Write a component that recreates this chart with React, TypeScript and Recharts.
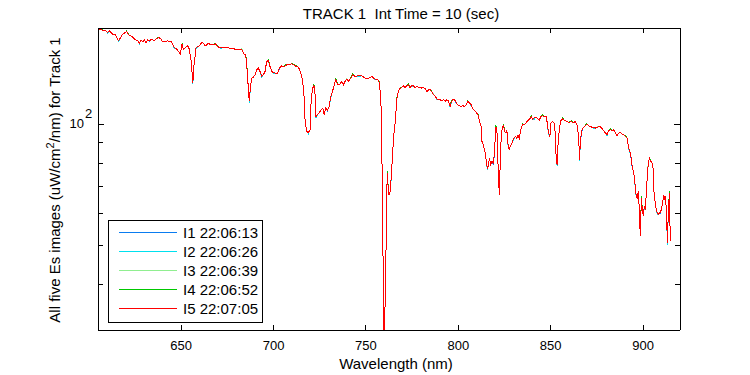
import { LineChart, Line, XAxis, YAxis, Legend } from 'recharts'

// wavelength (nm) samples
const wavelength = [
  605.4, 606.6, 607.5, 609.0, 610.3, 611.1, 612.0, 613.0, 614.2, 615.1,
  616.2, 617.5, 618.4, 619.8, 620.5, 621.6, 622.9, 624.1, 625.2, 626.5,
  627.4, 628.3, 629.2, 630.1, 631.0, 631.9, 632.8, 634.1, 635.5, 636.4,
  637.9, 639.1, 640.0, 641.8, 642.7, 643.6, 644.5, 645.4, 646.3, 647.6,
  648.7, 649.6, 650.5, 651.2, 652.3, 653.6, 654.4, 655.4, 655.9, 656.3,
  657.0, 657.7, 658.1, 659.3, 660.2, 661.2, 662.0, 662.9, 663.9, 664.7,
  666.0, 667.4, 668.7, 669.5, 671.0, 672.5, 674.7, 676.1, 677.4, 679.2,
  681.0, 682.8, 683.7, 684.6, 685.1, 685.8, 686.4, 686.9, 687.5, 688.2,
  689.1, 690.0, 690.9, 691.8, 692.7, 693.6, 694.5, 695.4, 696.3, 697.2,
  698.1, 699.1, 699.9, 700.8, 702.1, 703.2, 704.5, 705.7, 707.2, 708.0,
  709.9, 711.7, 713.5, 714.4, 715.3, 716.2, 716.7, 717.1, 718.0, 718.9,
  719.8, 720.3, 721.0, 721.8, 722.5, 723.0, 723.7, 724.7, 725.8, 726.7,
  727.4, 728.3, 729.2, 730.1, 731.0, 731.9, 733.0, 733.7, 734.8, 736.0,
  737.0, 737.8, 738.7, 739.7, 740.5, 741.8, 742.9, 744.2, 745.9, 747.8,
  749.6, 751.4, 753.2, 755.0, 756.5, 757.3, 758.1, 758.6, 759.0, 759.5,
  759.9, 760.4, 761.0, 761.3, 761.7, 762.2, 762.9, 763.5, 764.0, 764.4,
  765.1, 765.7, 766.2, 766.6, 767.5, 768.4, 769.3, 770.2, 771.2, 772.1,
  773.0, 773.9, 774.9, 775.7, 776.6, 777.6, 779.0, 780.3, 781.1, 782.1,
  783.0, 783.9, 784.8, 785.7, 786.6, 787.5, 788.4, 789.3, 790.2, 791.2,
  792.0, 792.9, 793.8, 794.7, 795.6, 796.1, 797.1, 797.8, 798.9, 799.6,
  800.6, 801.6, 802.5, 803.2, 804.3, 805.2, 806.1, 807.0, 807.9, 808.8,
  809.7, 810.6, 811.5, 812.4, 812.8, 813.5, 814.2, 814.7, 815.3, 815.8,
  816.3, 816.9, 817.6, 818.2, 819.0, 819.6, 820.3, 820.9, 821.4, 821.7,
  822.3, 822.8, 823.4, 823.9, 824.5, 825.0, 825.8, 826.3, 826.8, 827.5,
  828.1, 829.0, 829.9, 830.8, 831.7, 832.3, 833.0, 833.5, 834.1, 834.8,
  835.9, 836.6, 837.7, 838.6, 839.5, 840.2, 841.1, 842.0, 843.1, 843.8,
  844.7, 845.6, 846.5, 847.6, 848.3, 848.8, 849.6, 850.1, 851.0, 851.9,
  852.5, 853.0, 853.5, 854.1, 854.8, 855.5, 856.4, 857.5, 858.8, 860.0,
  861.1, 862.4, 863.3, 864.2, 864.7, 865.3, 865.6, 866.1, 866.7, 867.4,
  868.3, 869.2, 870.2, 871.2, 872.3, 873.2, 874.5, 875.6, 876.8, 877.7,
  878.6, 879.5, 880.5, 881.3, 882.2, 883.2, 884.0, 885.0, 885.9, 886.7,
  887.7, 888.6, 889.4, 890.4, 891.3, 891.8, 892.5, 893.1, 893.6, 894.2,
  894.9, 895.4, 896.0, 896.3, 896.9, 897.4, 898.0, 898.5, 899.1, 899.6,
  900.1, 900.7, 901.2, 901.8, 902.3, 902.8, 903.4, 904.1, 904.8, 905.4,
  905.9, 906.5, 907.0, 907.7, 908.4, 909.3, 909.9, 910.6, 911.2, 911.7,
  912.2, 912.8, 913.2, 913.7, 914.3, 914.6, 914.9
]

const es1 = [
  171.9, 171.9, 170.5, 170.5, 168.6, 170.2, 168.6, 167.1, 167.1, 163.8,
  160.8, 164.5, 167.1, 168.6, 169.5, 166.4, 165.4, 163.8, 161.7, 160.8,
  158.7, 161.7, 159.9, 161.7, 159.2, 161.7, 160.3, 162.3, 160.8, 162.3,
  163.8, 162.3, 159.9, 159.9, 160.8, 159.9, 160.8, 157.8, 154.7, 153.3,
  151.0, 149.1, 157.8, 153.3, 154.7, 156.2, 153.3, 143.5, 134.2, 126.3,
  140.8, 148.5, 155.1, 155.6, 157.1, 159.2, 158.7, 156.2, 156.6, 158.7,
  157.1, 157.1, 158.0, 156.2, 154.2, 155.1, 155.1, 154.2, 154.2, 153.3,
  152.8, 153.3, 149.9, 148.5, 145.7, 135.0, 121.6, 113.8, 123.9, 130.0,
  130.7, 132.5, 136.3, 137.6, 135.0, 131.7, 132.5, 135.0, 142.9, 143.7,
  138.9, 135.0, 134.2, 133.8, 133.2, 137.1, 139.4, 138.9, 140.3, 140.3,
  141.1, 139.4, 138.4, 135.0, 131.2, 122.8, 113.8, 101.5, 95.9, 95.3,
  96.8, 112.7, 121.6, 125.1, 118.2, 104.4, 105.4, 106.8, 108.5, 109.5,
  105.4, 109.5, 108.0, 110.6, 117.1, 120.4, 125.8, 128.7, 125.1, 125.8,
  127.5, 125.1, 127.5, 129.2, 127.5, 130.0, 132.5, 131.2, 131.7, 131.7,
  130.0, 130.0, 131.2, 129.2, 128.7, 126.3, 114.9, 89.7, 59.6, 37.8,
  25.0, 36.7, 52.2, 68.8, 75.6, 66.8, 66.8, 71.4, 77.8, 83.9,
  94.1, 99.6, 105.4, 114.9, 120.4, 122.3, 123.2, 124.6, 122.7, 124.4,
  125.1, 123.2, 124.6, 124.4, 123.2, 123.7, 123.2, 122.8, 123.2, 122.3,
  120.4, 121.6, 121.6, 120.0, 118.2, 117.1, 115.5, 114.9, 114.9, 114.2,
  114.9, 113.8, 114.9, 114.2, 110.6, 112.7, 115.5, 114.9, 112.9, 111.6,
  111.0, 110.6, 111.2, 110.4, 111.6, 113.8, 112.7, 111.6, 109.1, 107.9,
  107.1, 105.4, 101.5, 98.6, 90.6, 88.9, 86.4, 83.9, 80.1, 77.4,
  79.3, 82.4, 79.3, 80.8, 79.6, 84.8, 98.6, 96.8, 83.9, 72.8,
  66.8, 85.5, 95.0, 97.7, 99.6, 95.9, 95.0, 96.8, 89.7, 86.4,
  88.0, 89.7, 91.8, 93.2, 92.3, 94.1, 92.3, 95.0, 97.7, 99.6,
  99.6, 100.6, 101.6, 102.9, 104.1, 102.9, 103.5, 104.1, 102.9, 102.1,
  104.4, 104.8, 104.4, 104.4, 99.6, 95.0, 93.2, 100.6, 101.5, 100.6,
  95.0, 81.6, 79.3, 91.4, 97.7, 102.1, 102.9, 102.1, 101.5, 100.9,
  101.5, 100.9, 101.5, 99.6, 96.8, 89.7, 81.6, 90.6, 95.4, 97.7,
  98.6, 99.6, 99.6, 98.6, 98.3, 98.3, 97.7, 98.3, 98.6, 97.7,
  96.4, 95.3, 94.1, 96.4, 96.8, 96.4, 96.8, 95.3, 93.5, 95.0,
  95.3, 94.6, 94.1, 93.2, 92.3, 89.7, 86.4, 84.8, 81.9, 77.8,
  76.3, 72.8, 68.8, 66.2, 65.6, 68.1, 61.4, 52.7, 65.6, 61.4,
  59.3, 62.5, 61.9, 67.5, 74.2, 79.3, 82.4, 80.8, 80.4, 77.8,
  68.1, 64.3, 61.9, 60.2, 59.9, 59.9, 61.4, 63.7, 66.8, 65.0,
  66.2, 57.9, 50.7, 61.4, 67.5, 55.8, 51.2
]

const es2 = [
  171.9, 171.9, 170.5, 170.5, 168.0, 170.2, 168.6, 167.1, 167.1, 163.8,
  160.1, 164.5, 167.1, 168.6, 169.5, 166.4, 165.4, 163.8, 161.7, 160.8,
  158.0, 161.7, 159.9, 161.7, 159.2, 161.7, 160.8, 162.3, 160.8, 162.3,
  163.8, 162.3, 159.9, 159.9, 160.8, 159.9, 160.8, 157.8, 154.0, 153.3,
  151.0, 149.1, 157.8, 153.3, 154.7, 156.2, 153.3, 143.5, 134.2, 125.5,
  140.8, 148.5, 154.5, 155.6, 157.1, 159.2, 158.7, 156.2, 157.1, 158.7,
  157.1, 157.1, 158.0, 156.2, 154.2, 154.4, 155.1, 154.2, 154.2, 153.3,
  152.8, 153.3, 149.9, 148.5, 145.7, 135.0, 121.6, 113.0, 123.9, 130.0,
  130.7, 132.5, 136.3, 137.6, 135.0, 131.0, 132.5, 135.0, 142.9, 143.7,
  138.9, 135.0, 133.6, 133.8, 133.2, 137.6, 139.4, 138.9, 140.3, 140.3,
  141.1, 139.4, 138.4, 135.0, 131.2, 122.8, 113.8, 101.5, 95.9, 94.7,
  96.8, 112.7, 121.6, 125.1, 118.2, 103.8, 105.4, 106.8, 108.5, 109.5,
  105.4, 109.5, 108.5, 110.6, 116.4, 120.4, 125.8, 128.7, 125.1, 125.8,
  127.5, 125.1, 127.5, 129.2, 127.5, 130.0, 132.5, 131.2, 131.0, 131.7,
  130.0, 130.0, 131.2, 128.6, 128.7, 126.3, 114.9, 89.7, 59.6, 37.8,
  25.0, 36.7, 52.2, 68.8, 75.6, 66.8, 66.8, 70.9, 77.8, 83.9,
  94.1, 99.6, 105.4, 114.2, 120.4, 122.3, 123.2, 124.6, 123.2, 124.4,
  125.1, 123.2, 124.0, 124.4, 123.2, 123.7, 123.2, 122.8, 123.2, 122.3,
  120.4, 121.6, 121.6, 120.0, 118.2, 117.1, 114.9, 114.9, 114.9, 114.2,
  114.9, 113.8, 114.9, 114.2, 110.0, 112.7, 115.5, 114.9, 113.4, 111.6,
  111.0, 110.6, 111.2, 110.4, 111.6, 113.8, 112.7, 111.0, 109.1, 107.9,
  107.1, 105.4, 101.5, 98.6, 90.6, 88.9, 86.4, 83.9, 80.1, 76.9,
  79.3, 82.4, 79.3, 80.3, 80.1, 84.8, 98.6, 96.8, 83.9, 72.8,
  66.8, 85.5, 95.0, 97.7, 99.6, 95.9, 95.0, 96.8, 89.1, 86.4,
  88.0, 89.7, 91.2, 93.2, 92.3, 94.1, 92.3, 95.0, 97.7, 99.6,
  99.6, 100.6, 102.1, 102.9, 104.1, 102.9, 102.9, 104.1, 102.9, 102.1,
  104.4, 104.8, 104.4, 104.4, 99.6, 94.3, 93.2, 100.6, 101.5, 100.6,
  95.0, 81.6, 78.7, 91.4, 97.7, 102.1, 102.9, 102.1, 101.5, 100.9,
  101.5, 100.9, 101.5, 99.6, 96.8, 89.7, 80.9, 90.6, 95.9, 97.7,
  98.6, 99.6, 99.6, 98.6, 98.3, 97.7, 97.7, 98.3, 98.6, 97.7,
  96.4, 95.3, 93.5, 96.4, 96.8, 96.4, 96.8, 95.3, 93.5, 95.0,
  95.3, 94.6, 94.1, 93.2, 92.3, 89.7, 85.8, 84.8, 82.4, 77.8,
  76.3, 72.8, 68.2, 66.2, 65.6, 68.1, 61.4, 52.7, 65.6, 61.4,
  59.3, 61.9, 61.9, 67.5, 74.2, 79.3, 82.4, 80.8, 80.4, 77.8,
  68.1, 64.3, 61.9, 59.7, 59.9, 60.4, 61.4, 63.7, 66.8, 65.0,
  66.2, 57.9, 50.2, 61.4, 67.5, 55.8, 51.2
]

const es3 = [
  171.9, 171.9, 170.5, 170.5, 168.6, 170.2, 168.6, 167.1, 167.1, 163.8,
  160.8, 164.5, 167.1, 168.6, 169.5, 166.4, 165.4, 164.2, 161.7, 160.8,
  158.7, 161.7, 159.9, 161.7, 159.2, 161.7, 160.8, 162.3, 160.8, 162.3,
  163.8, 162.3, 159.9, 159.9, 160.8, 159.9, 160.8, 157.8, 154.7, 153.3,
  151.0, 149.1, 157.8, 153.3, 154.7, 156.2, 153.3, 143.5, 134.2, 126.3,
  140.8, 148.5, 155.1, 155.6, 157.1, 159.2, 158.7, 156.2, 157.1, 158.7,
  157.1, 157.1, 158.0, 156.2, 154.2, 155.1, 155.1, 154.2, 154.2, 153.3,
  152.8, 153.7, 149.9, 148.5, 145.7, 135.0, 121.6, 113.8, 123.9, 130.0,
  130.7, 132.5, 136.3, 137.6, 135.0, 131.7, 132.5, 135.0, 142.9, 143.7,
  138.9, 135.0, 134.2, 133.8, 133.2, 137.6, 139.4, 138.9, 140.3, 140.3,
  141.1, 139.4, 138.4, 135.0, 131.2, 122.8, 113.8, 101.5, 95.9, 95.3,
  96.8, 112.7, 121.6, 125.1, 118.2, 104.4, 105.4, 106.8, 108.5, 109.5,
  105.4, 109.5, 108.5, 110.6, 117.1, 120.4, 125.8, 128.7, 125.1, 125.8,
  127.5, 125.1, 127.5, 129.6, 127.5, 130.0, 132.5, 131.2, 131.7, 131.7,
  130.0, 130.0, 131.2, 129.2, 128.7, 126.3, 114.9, 89.7, 59.6, 37.8,
  25.0, 36.7, 52.2, 68.8, 75.6, 66.8, 66.8, 71.4, 77.8, 83.9,
  94.1, 99.6, 105.4, 114.9, 120.4, 122.3, 123.2, 124.6, 123.2, 124.4,
  125.1, 123.2, 124.6, 124.4, 123.2, 123.7, 123.2, 122.8, 123.2, 122.3,
  120.4, 121.6, 121.6, 120.0, 118.6, 117.1, 115.5, 114.9, 114.9, 114.2,
  114.9, 113.8, 114.9, 114.2, 110.6, 112.7, 115.5, 114.9, 113.4, 111.6,
  111.0, 110.6, 111.2, 110.4, 111.6, 113.8, 112.7, 111.6, 109.1, 107.9,
  107.1, 105.4, 101.5, 98.6, 90.6, 88.9, 86.4, 83.9, 80.1, 77.4,
  79.3, 82.4, 79.3, 80.8, 80.1, 84.8, 98.6, 96.8, 83.9, 72.8,
  67.2, 85.5, 95.0, 97.7, 99.6, 95.9, 95.0, 96.8, 89.7, 86.4,
  88.0, 89.7, 91.8, 93.2, 92.3, 94.1, 92.3, 95.0, 97.7, 99.6,
  99.6, 100.6, 102.1, 102.9, 104.1, 102.9, 103.5, 104.1, 102.9, 102.1,
  104.4, 104.8, 104.4, 104.4, 99.6, 95.0, 93.2, 100.6, 101.5, 100.6,
  95.0, 81.6, 79.3, 91.4, 97.7, 102.1, 102.9, 102.1, 101.5, 100.9,
  101.5, 100.9, 101.5, 99.6, 96.8, 89.7, 81.6, 90.6, 95.9, 97.7,
  98.6, 99.6, 99.6, 98.6, 98.3, 98.3, 97.7, 98.7, 98.6, 97.7,
  96.4, 95.3, 94.1, 96.4, 96.8, 96.4, 96.8, 95.3, 93.5, 95.0,
  95.3, 94.6, 94.1, 93.2, 92.3, 89.7, 86.4, 84.8, 82.4, 77.8,
  76.3, 72.8, 68.8, 66.2, 65.6, 68.1, 61.4, 52.7, 65.6, 61.4,
  59.3, 62.5, 61.9, 67.5, 74.2, 79.8, 82.4, 80.8, 80.4, 77.8,
  68.1, 64.3, 61.9, 60.2, 59.9, 60.4, 61.4, 63.7, 66.8, 65.0,
  66.2, 57.9, 50.7, 61.4, 67.5, 55.8, 51.2
]

const es4 = [
  171.9, 171.9, 171.0, 170.5, 168.6, 170.2, 168.6, 167.1, 167.1, 163.8,
  160.8, 164.5, 167.1, 168.6, 170.1, 166.4, 165.4, 163.8, 161.7, 160.8,
  158.7, 161.7, 159.9, 161.7, 159.2, 161.7, 160.8, 162.3, 160.8, 162.3,
  164.4, 162.3, 159.9, 159.9, 160.8, 159.9, 160.8, 157.8, 154.7, 153.3,
  151.0, 149.1, 158.4, 153.3, 154.7, 156.2, 153.3, 143.5, 134.2, 126.3,
  140.8, 148.5, 155.1, 155.6, 157.1, 159.2, 158.7, 156.2, 157.1, 158.7,
  157.1, 157.1, 158.6, 156.2, 154.2, 155.1, 155.1, 154.2, 154.2, 153.3,
  152.8, 153.3, 149.9, 148.5, 146.5, 135.0, 121.6, 113.8, 123.9, 130.0,
  130.7, 132.5, 136.3, 137.6, 135.0, 131.7, 132.5, 135.0, 142.9, 144.3,
  138.9, 135.0, 134.2, 133.8, 133.2, 137.6, 139.4, 138.9, 140.9, 140.3,
  141.1, 140.0, 138.4, 135.0, 131.2, 122.8, 113.8, 101.5, 95.9, 95.3,
  96.8, 112.7, 121.6, 125.9, 118.2, 104.4, 105.4, 106.8, 108.5, 109.5,
  105.4, 109.5, 108.5, 110.6, 117.1, 120.4, 125.8, 129.4, 125.1, 125.8,
  127.5, 125.1, 127.5, 129.2, 127.5, 130.0, 133.1, 131.2, 131.7, 131.7,
  130.0, 130.0, 131.2, 129.2, 128.7, 127.0, 114.9, 89.7, 59.6, 37.8,
  25.0, 36.7, 52.2, 68.8, 76.4, 66.8, 66.8, 71.4, 77.8, 83.9,
  94.1, 99.6, 105.4, 114.9, 120.4, 122.9, 123.2, 124.6, 123.2, 124.4,
  125.7, 123.2, 124.6, 124.4, 123.2, 123.7, 123.2, 122.8, 123.2, 122.3,
  120.4, 121.6, 122.1, 120.0, 118.2, 117.1, 115.5, 114.9, 114.9, 114.2,
  114.9, 113.8, 114.9, 114.2, 110.6, 113.3, 115.5, 114.9, 113.4, 111.6,
  111.0, 110.6, 111.2, 110.4, 111.6, 114.4, 112.7, 111.6, 109.1, 107.9,
  107.1, 106.0, 101.5, 98.6, 90.6, 88.9, 86.4, 83.9, 80.1, 77.4,
  79.3, 82.4, 79.3, 80.8, 80.1, 84.8, 99.5, 96.8, 83.9, 72.8,
  66.8, 85.5, 95.0, 97.7, 100.2, 95.9, 95.0, 96.8, 89.7, 86.4,
  88.0, 89.7, 91.8, 93.2, 92.3, 94.1, 92.3, 95.0, 97.7, 100.2,
  99.6, 100.6, 102.1, 102.9, 104.7, 102.9, 103.5, 104.1, 102.9, 102.1,
  104.4, 105.4, 104.4, 104.4, 99.6, 95.0, 93.2, 100.6, 101.5, 100.6,
  95.0, 81.6, 79.3, 91.4, 97.7, 102.1, 103.5, 102.1, 101.5, 100.9,
  102.0, 100.9, 101.5, 99.6, 96.8, 89.7, 81.6, 90.6, 95.9, 97.7,
  98.6, 100.2, 99.6, 98.6, 98.3, 98.3, 97.7, 98.3, 98.6, 97.7,
  96.4, 95.3, 94.1, 96.4, 97.4, 96.4, 96.8, 95.3, 93.5, 95.0,
  95.3, 94.6, 94.1, 93.8, 92.3, 89.7, 86.4, 84.8, 82.4, 77.8,
  76.3, 72.8, 68.8, 66.2, 65.6, 68.1, 61.4, 52.7, 66.3, 61.4,
  59.3, 62.5, 61.9, 67.5, 74.2, 79.3, 82.4, 81.5, 80.4, 77.8,
  68.1, 64.3, 61.9, 60.2, 59.9, 60.4, 61.4, 63.7, 66.8, 65.7,
  66.2, 57.9, 50.7, 61.4, 68.2, 55.8, 51.2
]

const es5 = [
  171.9, 171.9, 170.5, 170.5, 168.6, 170.2, 168.6, 167.1, 167.1, 163.8,
  160.8, 164.5, 167.1, 168.6, 169.5, 166.4, 165.4, 163.8, 161.7, 160.8,
  158.7, 161.7, 159.9, 161.7, 159.2, 161.7, 160.8, 162.3, 160.8, 162.3,
  163.8, 162.3, 159.9, 159.9, 160.8, 159.9, 160.8, 157.8, 154.7, 153.3,
  151.0, 149.1, 157.8, 153.3, 154.7, 156.2, 153.3, 143.5, 134.2, 126.3,
  140.8, 148.5, 155.1, 155.6, 157.1, 159.2, 158.7, 156.2, 157.1, 158.7,
  157.1, 157.1, 158.0, 156.2, 154.2, 155.1, 155.1, 154.2, 154.2, 153.3,
  152.8, 153.3, 149.9, 148.5, 145.7, 135.0, 121.6, 113.8, 123.9, 130.0,
  130.7, 132.5, 136.3, 137.6, 135.0, 131.7, 132.5, 135.0, 142.9, 143.7,
  138.9, 135.0, 134.2, 133.8, 133.2, 137.6, 139.4, 138.9, 140.3, 140.3,
  141.1, 139.4, 138.4, 135.0, 131.2, 122.8, 113.8, 101.5, 95.9, 95.3,
  96.8, 112.7, 121.6, 125.1, 118.2, 104.4, 105.4, 106.8, 108.5, 109.5,
  105.4, 109.5, 108.5, 110.6, 117.1, 120.4, 125.8, 128.7, 125.1, 125.8,
  127.5, 125.1, 127.5, 129.2, 127.5, 130.0, 132.5, 131.2, 131.7, 131.7,
  130.0, 130.0, 131.2, 129.2, 128.7, 126.3, 114.9, 89.7, 59.6, 37.8,
  25.0, 36.7, 52.2, 68.8, 75.6, 66.8, 66.8, 71.4, 77.8, 83.9,
  94.1, 99.6, 105.4, 114.9, 120.4, 122.3, 123.2, 124.6, 123.2, 124.4,
  125.1, 123.2, 124.6, 124.4, 123.2, 123.7, 123.2, 122.8, 123.2, 122.3,
  120.4, 121.6, 121.6, 120.0, 118.2, 117.1, 115.5, 114.9, 114.9, 114.2,
  114.9, 113.8, 114.9, 114.2, 110.6, 112.7, 115.5, 114.9, 113.4, 111.6,
  111.0, 110.6, 111.2, 110.4, 111.6, 113.8, 112.7, 111.6, 109.1, 107.9,
  107.1, 105.4, 101.5, 98.6, 90.6, 88.9, 86.4, 83.9, 80.1, 77.4,
  79.3, 82.4, 79.3, 80.8, 80.1, 84.8, 98.6, 96.8, 83.9, 72.8,
  66.8, 85.5, 95.0, 97.7, 99.6, 95.9, 95.0, 96.8, 89.7, 86.4,
  88.0, 89.7, 91.8, 93.2, 92.3, 94.1, 92.3, 95.0, 97.7, 99.6,
  99.6, 100.6, 102.1, 102.9, 104.1, 102.9, 103.5, 104.1, 102.9, 102.1,
  104.4, 104.8, 104.4, 104.4, 99.6, 95.0, 93.2, 100.6, 101.5, 100.6,
  95.0, 81.6, 79.3, 91.4, 97.7, 102.1, 102.9, 102.1, 101.5, 100.9,
  101.5, 100.9, 101.5, 99.6, 96.8, 89.7, 81.6, 90.6, 95.9, 97.7,
  98.6, 99.6, 99.6, 98.6, 98.3, 98.3, 97.7, 98.3, 98.6, 97.7,
  96.4, 95.3, 94.1, 96.4, 96.8, 96.4, 96.8, 95.3, 93.5, 95.0,
  95.3, 94.6, 94.1, 93.2, 92.3, 89.7, 86.4, 84.8, 82.4, 77.8,
  76.3, 72.8, 68.8, 66.2, 65.6, 68.1, 61.4, 52.7, 65.6, 61.4,
  59.3, 62.5, 61.9, 67.5, 74.2, 79.3, 82.4, 80.8, 80.4, 77.8,
  68.1, 64.3, 61.9, 60.2, 59.9, 60.4, 61.4, 63.7, 66.8, 65.0,
  66.2, 57.9, 50.7, 61.4, 67.5, 55.8, 51.2
]

const seriesNames = ['I1 22:06:13', 'I2 22:06:26', 'I3 22:06:39', 'I4 22:06:52', 'I5 22:07:05']
const seriesColors = ['#0a7cf0', '#00e0ee', '#90ee90', '#00c800', '#ff0000']
const xTicks = [650, 700, 750, 800, 850, 900]
const yTicks = [40, 50, 60, 70, 80, 90, 100]

const data = wavelength.map((w, i) => ({
  w,
  s1: es1[i],
  s2: es2[i],
  s3: es3[i],
  s4: es4[i],
  s5: es5[i]
}))

const FONT = 'Arial, "Liberation Sans", Helvetica, sans-serif'

const BottomTick = ({ x, y, payload }: any) => (
  <g>
    <line x1={x} x2={x} y1={y} y2={y - 5} stroke="#000" />
    <text x={x} y={y + 20} textAnchor="middle" fontSize={13} fontFamily={FONT} fill="#000">
      {payload.value}
    </text>
  </g>
)

const TopTick = ({ x, y }: any) => <line x1={x} x2={x} y1={y} y2={y + 5} stroke="#000" />

const LeftTick = ({ x, y, payload }: any) => {
  const major = payload.value === 100
  return (
    <g>
      <line x1={x} x2={x + (major ? 6 : 5)} y1={y} y2={y} stroke="#000" />
      {major && (
        <>
          <text x={x - 14} y={y + 4} textAnchor="end" fontSize={13} fontFamily={FONT} fill="#000">10</text>
          <text x={x - 13} y={y - 6} fontSize={13} fontFamily={FONT} fill="#000">2</text>
        </>
      )}
    </g>
  )
}

const RightTick = ({ x, y, payload }: any) => (
  <line x1={x} x2={x - (payload.value === 100 ? 6 : 5)} y1={y} y2={y} stroke="#000" />
)

const LegendBox = ({ payload }: any) => (
  <svg width={155} height={103} style={{ display: 'block' }}>
    <rect x={0.5} y={0.5} width={154} height={102} fill="#fff" stroke="#000" />
    {(payload || []).map((p: any, i: number) => {
      const cy = 12.5 + i * 19.1
      return (
        <g key={p.value}>
          <line x1={11} x2={69} y1={cy} y2={cy} stroke={p.color} />
          <text x={75} y={cy + 5.5} fontSize={15} fontFamily={FONT} fill="#000">{p.value}</text>
        </g>
      )
    })}
  </svg>
)

const App = () => {
  return (
    <div style={{ position: 'absolute', left: 0, top: 0, width: 750, height: 375, background: '#fff', shapeRendering: 'crispEdges' }}>
      <LineChart width={750} height={375} data={data} margin={{ top: 27, right: 69, bottom: 44, left: 97 }}>
        <XAxis
          dataKey="w"
          type="number"
          domain={[605, 920]}
          ticks={xTicks}
          interval={0}
          allowDataOverflow
          height={1}
          tickSize={0}
          tickMargin={0}
          tickLine={false}
          tick={BottomTick}
          axisLine={{ stroke: '#000' }}
        />
        <XAxis
          xAxisId="top"
          orientation="top"
          dataKey="w"
          type="number"
          domain={[605, 920]}
          ticks={xTicks}
          interval={0}
          allowDataOverflow
          height={1}
          tickSize={0}
          tickMargin={0}
          tickLine={false}
          tick={TopTick}
          axisLine={{ stroke: '#000' }}
        />
        <YAxis
          scale="log"
          type="number"
          domain={[30.9, 173]}
          ticks={yTicks}
          interval={0}
          allowDataOverflow
          width={1}
          tickSize={0}
          tickMargin={0}
          tickLine={false}
          tick={LeftTick}
          axisLine={{ stroke: '#000' }}
        />
        <YAxis
          yAxisId="right"
          orientation="right"
          scale="log"
          type="number"
          domain={[30.9, 173]}
          ticks={yTicks}
          interval={0}
          allowDataOverflow
          width={1}
          tickSize={0}
          tickMargin={0}
          tickLine={false}
          tick={RightTick}
          axisLine={{ stroke: '#000' }}
        />
        {seriesNames.map((name, i) => (
          <Line
            key={name}
            type="linear"
            dataKey={'s' + (i + 1)}
            name={name}
            stroke={seriesColors[i]}
            strokeWidth={1}
            dot={false}
            activeDot={false}
            isAnimationActive={false}
          />
        ))}
        <Legend
          layout="horizontal"
          align="center"
          verticalAlign="middle"
          content={LegendBox}
          wrapperStyle={{ left: 108, top: 220, width: 155, height: 103 }}
        />
      </LineChart>
      <svg
        width={750}
        height={375}
        style={{ position: 'absolute', left: 0, top: 0, pointerEvents: 'none' }}
        fontFamily={FONT}
      >
        <text x={401} y={19} textAnchor="middle" fontSize={15} fill="#000" style={{ whiteSpace: 'pre' }}>
          TRACK 1  Int Time = 10 (sec)
        </text>
        <text x={396} y={369} textAnchor="middle" fontSize={15} fill="#000">Wavelength (nm)</text>
        <text x={60} y={180} textAnchor="middle" fontSize={15} fill="#000" transform="rotate(-90 60 180)">
          All five Es images (uW/cm<tspan dy={-6} fontSize={11}>2</tspan><tspan dy={6}>/nm) for Track 1</tspan>
        </text>
      </svg>
    </div>
  )
}

export default App
